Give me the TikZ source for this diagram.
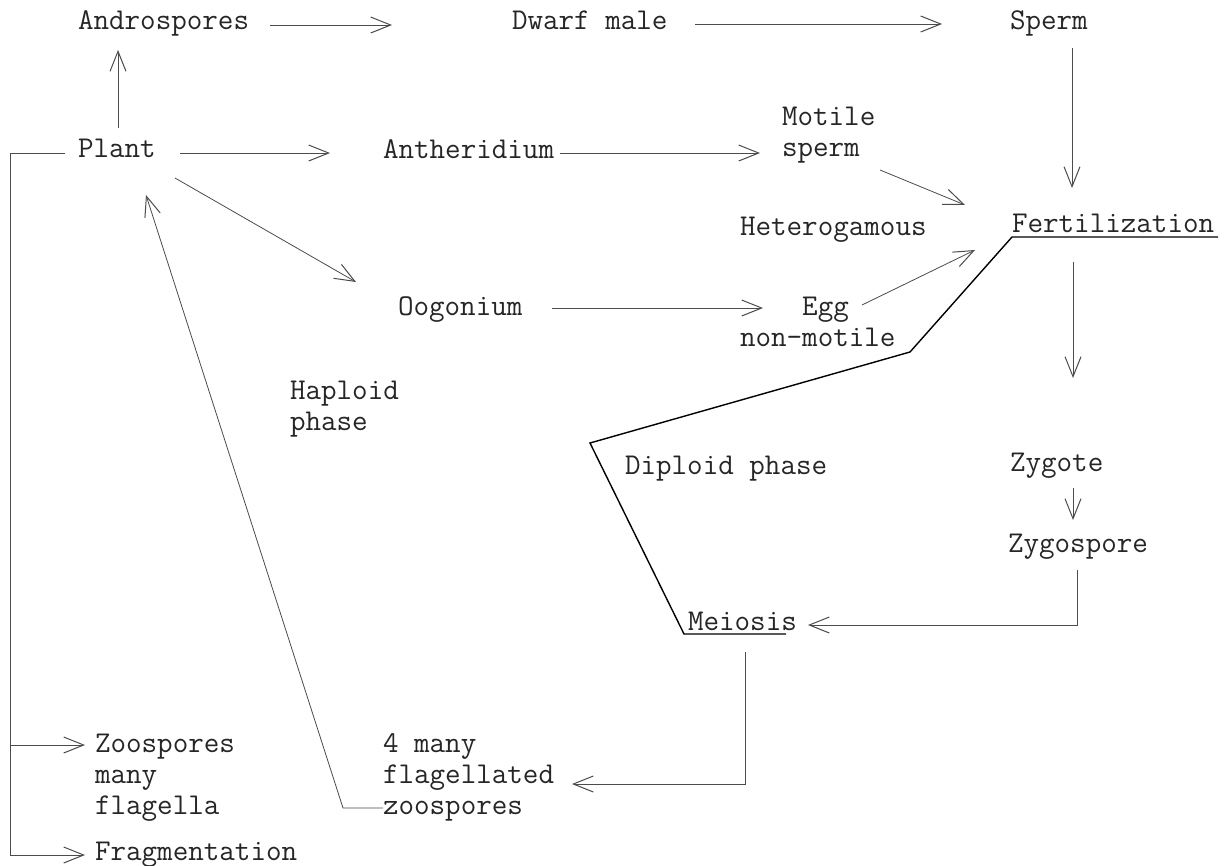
\documentclass[tikz,border=0pt]{standalone}
\usetikzlibrary{arrows.meta,calc}
\begin{document}
\begin{tikzpicture}[x=1pt,y=-1pt,
  lbl/.style={anchor=base west,inner sep=0pt,outer sep=0pt,align=left,
    text=black!85,font=\ttfamily\fontsize{30.2}{31}\selectfont},
  conn/.style={draw=black!70,line width=0.8pt},
  arr/.style={conn,-{Straight Barb[length=20pt,width=16pt,line width=1pt]}},
  phaseline/.style={draw=black,line width=1.4pt,line join=miter}]
\useasboundingbox[fill=white] (0,0) rectangle (1226,865);

% labels (multi-line labels are placed by the baseline of their last line)
\node[lbl] (andro)   at (78,29)    {Androspores};
\node[lbl] (dwarf)   at (512,29)   {Dwarf male};
\node[lbl] (sperm)   at (1010,29)  {Sperm};
\node[lbl] (plant)   at (78,157)   {Plant};
\node[lbl] (anther)  at (383,158)  {Antheridium};
\node[lbl] (motile)  at (782,156)  {Motile\\sperm};
\node[lbl] (hetero)  at (740,235)  {Heterogamous};
\node[lbl] (fert)    at (1012,232) {Fertilization};
\node[lbl] (oog)     at (398,315)  {Oogonium};
\node[lbl] (egg)     at (740,346)  {\hphantom{non-}Egg\\non-motile};
\node[lbl] (haploid) at (290,430)  {Haploid\\phase};
\node[lbl] (zygote)  at (1010,471) {Zygote};
\node[lbl] (diploid) at (625,474)  {Diploid phase};
\node[lbl] (zygosp)  at (1008,552) {Zygospore};
\node[lbl] (meiosis) at (688,630)  {Meiosis};
\node[lbl] (four)    at (383,814)  {4 many\\flagellated\\zoospores};
\node[lbl] (zoosp)   at (95,814)   {Zoospores\\many\\flagella};
\node[lbl] (frag)    at (95,860)   {Fragmentation};

% male line
\draw[arr] ($(andro.base west)+(192,-4)$) -- ($(dwarf.base west)+(-120,-4)$);
\draw[arr] ($(dwarf.base west)+(183,-5)$) -- ($(sperm.base west)+(-68,-5)$);
\draw[arr] ($(sperm.base west)+(62,19)$) -- ($(fert.base west)+(60,-44)$);
\draw[arr] ($(plant.base west)+(40,-29)$) -- ($(andro.base west)+(40,21)$);
\draw[arr] ($(plant.base west)+(102,-4)$) -- ($(anther.base west)+(-53,-5)$);
\draw[arr] ($(anther.base west)+(177,-5)$) -- ($(motile.base west)+(-22,-3)$);
\draw[arr] ($(motile.base west)+(98,14)$) -- ($(fert.base west)+(-47,-27)$);

% female line
\draw[arr] ($(plant.base west)+(97,21)$) -- ($(oog.base west)+(-42,-33)$);
\draw[arr] ($(oog.base west)+(154,-7)$) -- ($(egg.base west)+(23,-38)$);
\draw[arr] ($(egg.base west)+(122,-41)$) -- ($(fert.base west)+(-37,18)$);

% diploid sequence
\draw[arr] ($(fert.base west)+(61,30)$) -- ($(zygote.base west)+(63,-93)$);
\draw[arr] ($(zygote.base west)+(63,17)$) -- ($(zygosp.base west)+(65,-32)$);
\draw[arr] ($(zygosp.base west)+(69,18)$) |- ($(meiosis.base west)+(120,-5)$);
\draw[arr] ($(meiosis.base west)+(57,22)$) |- ($(four.base west)+(189,-30)$);
\draw[arr] ($(four.base west)+(0,-6)$) -- ++(-40,0) -- ($(plant.base west)+(68,38)$);

% asexual branches
\draw[arr] ($(plant.base west)+(-13,-4)$) -| ($(frag.base west)+(-85,-5)$)
  -- ($(frag.base west)+(-10,-5)$);
\draw[arr] ($(zoosp.base west)+(-85,-69)$) -- ($(zoosp.base west)+(-10,-69)$);

% boundary between the haploid and diploid phases
\draw[phaseline] ($(fert.base west)+(206,5)$) -- ($(fert.base west)+(0,5)$)
  -- (910,352) -- (590,443) -- ($(meiosis.base west)+(-4,4)$)
  -- ($(meiosis.base west)+(98,4)$);
\end{tikzpicture}
\end{document}
